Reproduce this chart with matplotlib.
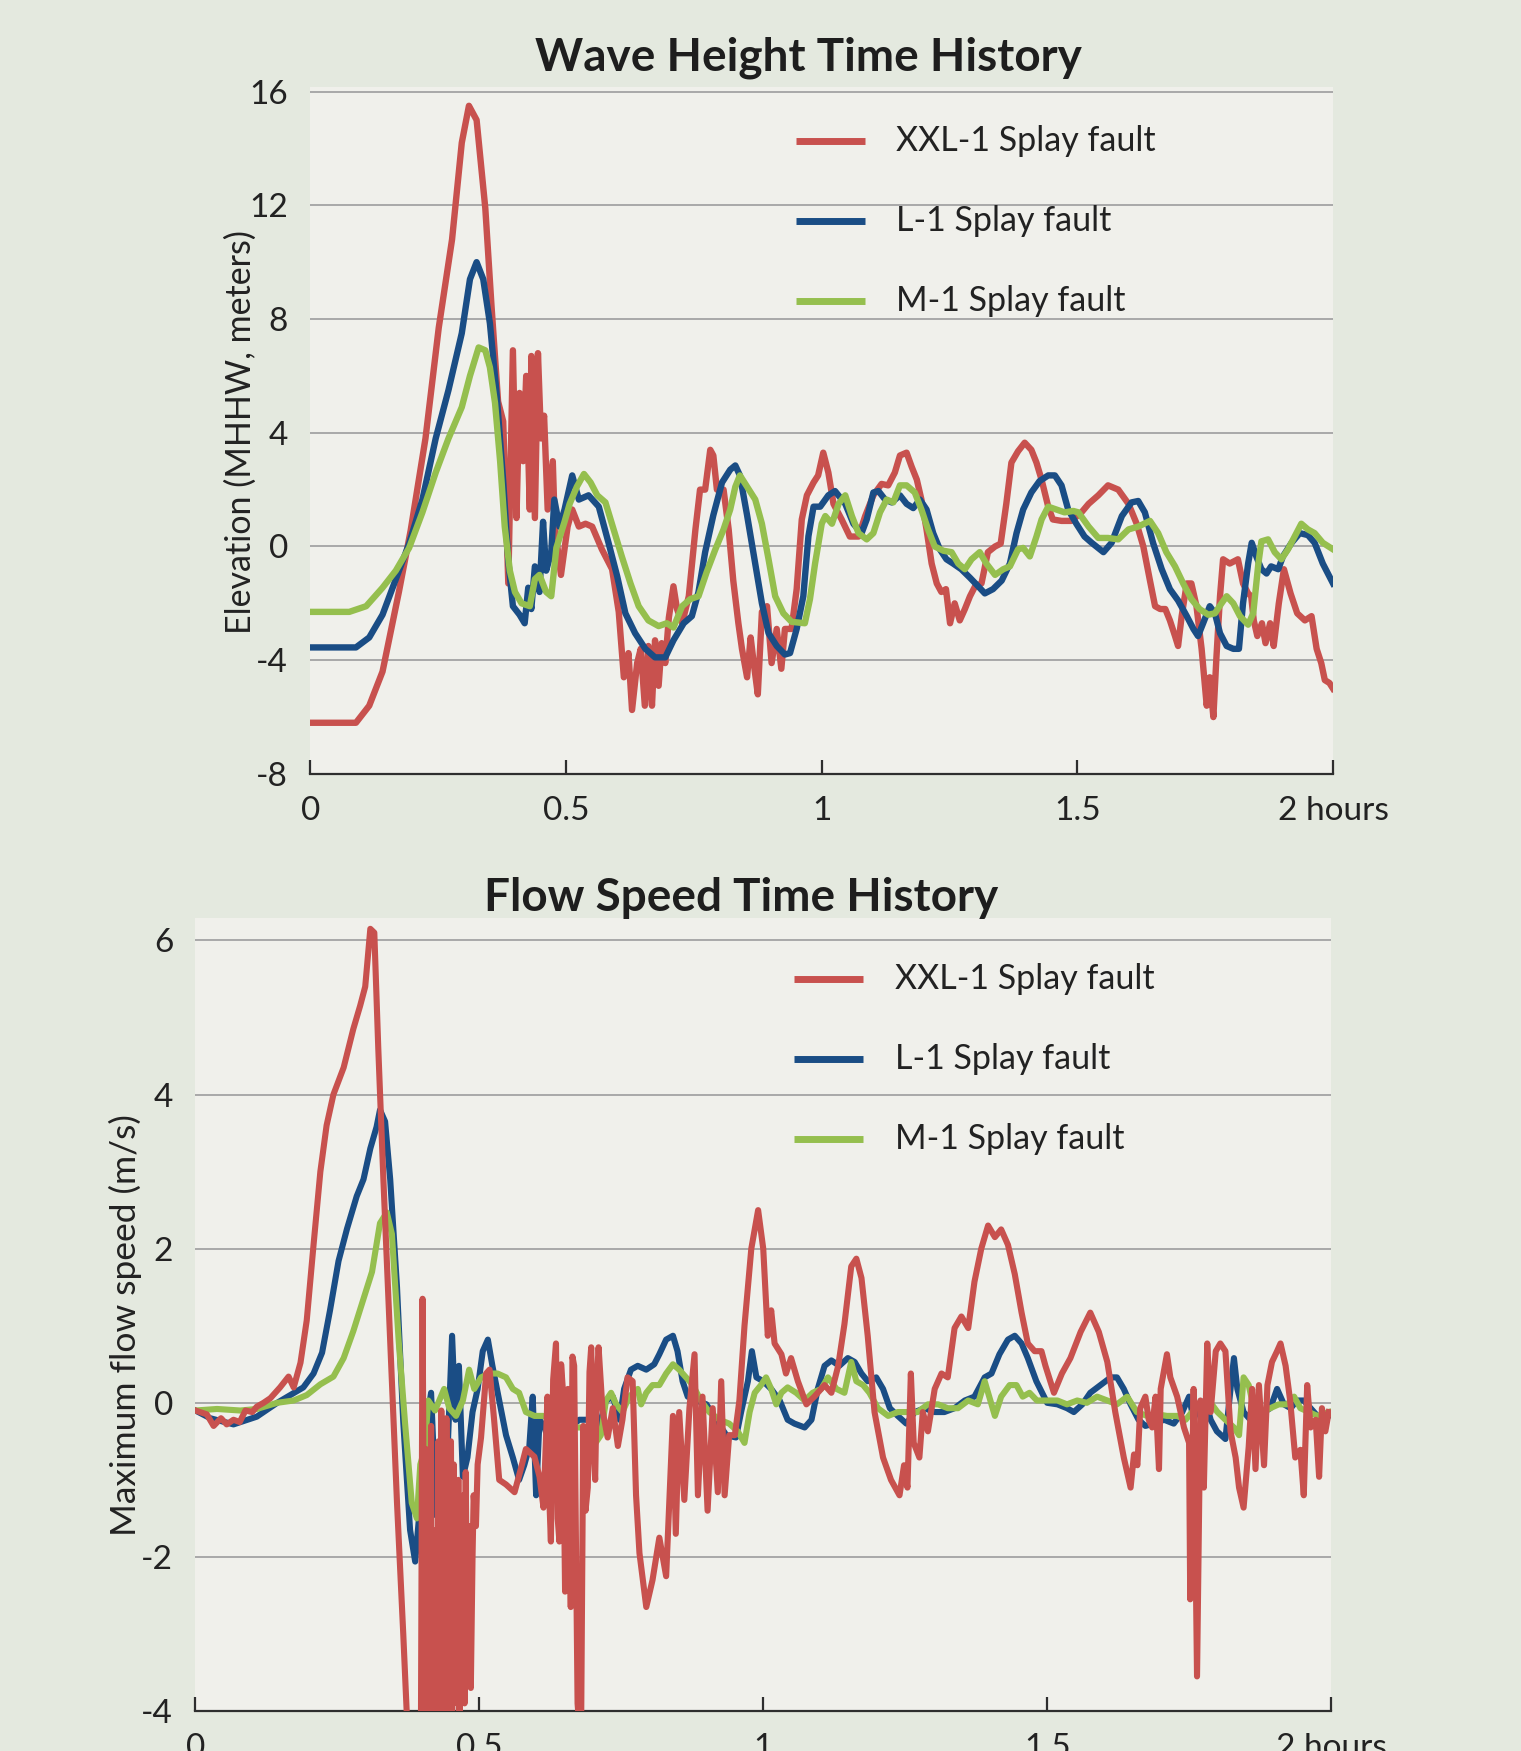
import matplotlib
matplotlib.use("Agg")
import matplotlib.pyplot as plt
from matplotlib.lines import Line2D

plt.rcParams['font.family'] = ['Lato', 'DejaVu Sans']
plt.rcParams['axes.unicode_minus'] = False

# ---- series names / colours
names = ["XXL-1 Splay fault", "L-1 Splay fault", "M-1 Splay fault"]
colors = ["#c8514e", "#1a4d85", "#95bf4e"]

x_ticks = [0, 0.5, 1, 1.5, 2]
x_labels = ["0", "0.5", "1", "1.5", "2 hours"]
wave_yticks = [16, 12, 8, 4, 0, -4, -8]
flow_yticks = [6, 4, 2, 0, -2, -4]

# ---- wave height (m), time in hours
wave_t_xxl = [0.0, 0.089, 0.115, 0.141, 0.173, 0.196, 0.225, 0.251, 0.277, 0.296, 0.31, 0.325, 0.342,
              0.354, 0.367, 0.377, 0.387, 0.396, 0.403, 0.409, 0.416, 0.422, 0.429, 0.432, 0.439, 0.445,
              0.451, 0.457, 0.464, 0.474, 0.478, 0.49, 0.503, 0.512, 0.525, 0.538, 0.551, 0.57, 0.59,
              0.603, 0.613, 0.622, 0.629, 0.639, 0.646, 0.654, 0.661, 0.668, 0.674, 0.681, 0.687, 0.694,
              0.701, 0.71, 0.717, 0.727, 0.74, 0.753, 0.762, 0.772, 0.782, 0.788, 0.795, 0.808, 0.818,
              0.827, 0.837, 0.844, 0.854, 0.861, 0.867, 0.875, 0.883, 0.893, 0.902, 0.912, 0.921, 0.928,
              0.941, 0.951, 0.961, 0.971, 0.984, 0.993, 1.003, 1.013, 1.023, 1.039, 1.055, 1.072, 1.085,
              1.101, 1.117, 1.13, 1.143, 1.153, 1.166, 1.176, 1.186, 1.195, 1.205, 1.215, 1.225, 1.234,
              1.243, 1.251, 1.26, 1.27, 1.28, 1.29, 1.3, 1.3125, 1.325, 1.339, 1.35, 1.361, 1.371, 1.384,
              1.397, 1.41, 1.42, 1.43, 1.443, 1.452, 1.469, 1.488, 1.508, 1.522, 1.541, 1.56, 1.58, 1.6,
              1.616, 1.629, 1.642, 1.652, 1.662, 1.672, 1.681, 1.691, 1.697, 1.704, 1.714, 1.723, 1.733,
              1.743, 1.753, 1.759, 1.766, 1.772, 1.779, 1.785, 1.798, 1.814, 1.824, 1.834, 1.84, 1.845,
              1.852, 1.861, 1.868, 1.877, 1.884, 1.894, 1.904, 1.917, 1.93, 1.945, 1.958, 1.968, 1.977,
              1.984, 1.993, 2.0]
wave_xxl = [-6.2, -6.2, -5.6, -4.4, -1.6, 0.56, 3.8, 7.7, 10.8, 14.2, 15.5, 15.0, 11.9,
            8.5, 5.1, 4.4, -1.3, 6.9, 1.0, 5.4, 3.0, 6.0, 1.3, 6.7, 1.0, 6.8,
            3.8, 4.6, 1.3, 3.0, 0.7, -1.0, 0.7, 1.3, 0.7, 0.8, 0.7, -0.1, -0.8,
            -2.3, -4.6, -3.75, -5.75, -4.1, -3.6, -5.6, -3.5, -5.6, -3.3, -4.9, -3.4, -4.1,
            -2.5, -1.4, -2.2, -2.7, -1.75, 0.6, 2.0, 2.0, 3.4, 3.2, 2.0, 2.0, 0.6,
            -1.2, -2.7, -3.6, -4.6, -3.2, -4.1, -5.2, -2.3, -2.1, -4.1, -2.9, -4.3, -2.9,
            -2.9, -1.5, 0.95, 1.8, 2.25, 2.5, 3.3, 2.6, 1.5, 0.95, 0.35, 0.35, 1.07,
            1.8, 2.2, 2.15, 2.6, 3.2, 3.3, 2.8, 2.35, 1.65, 0.6, -0.6, -1.3, -1.6,
            -1.5, -2.7, -2.0, -2.6, -2.2, -1.75, -1.4, -1.3, -0.2, 0.0, 0.1, 1.5, 2.95, 3.35,
            3.65, 3.4, 2.95, 2.35, 1.4, 0.95, 0.9, 0.9, 1.2, 1.5, 1.8, 2.15, 2.0, 1.5,
            0.8, 0.0, -1.2, -2.1, -2.2, -2.2, -2.6, -3.15, -3.5, -2.45, -1.3, -1.3, -2.1,
            -3.6, -5.6, -4.6, -6.0, -3.9, -1.75, -0.45, -0.6, -0.45, -1.3, -1.65, -1.75, -2.6,
            -3.15, -2.7, -3.4, -2.7, -3.5, -2.0, -0.8, -1.65, -2.35, -2.6, -2.45, -3.6, -4.1,
            -4.7, -4.8, -5.0]

wave_t_l = [0.0, 0.089, 0.115, 0.141, 0.167, 0.193, 0.219, 0.245, 0.27, 0.296, 0.312, 0.325, 0.338,
            0.351, 0.364, 0.377, 0.387, 0.396, 0.409, 0.419, 0.426, 0.432, 0.439, 0.448, 0.455, 0.461,
            0.471, 0.477, 0.487, 0.497, 0.512, 0.525, 0.544, 0.564, 0.583, 0.6, 0.616, 0.635, 0.655,
            0.674, 0.694, 0.71, 0.73, 0.746, 0.759, 0.772, 0.788, 0.805, 0.821, 0.831, 0.84, 0.854,
            0.87, 0.883, 0.896, 0.912, 0.928, 0.938, 0.951, 0.964, 0.974, 0.984, 0.997, 1.013, 1.026,
            1.046, 1.062, 1.078, 1.088, 1.101, 1.111, 1.124, 1.137, 1.153, 1.166, 1.179, 1.192, 1.205,
            1.218, 1.231, 1.244, 1.257, 1.273, 1.29, 1.306, 1.319, 1.335, 1.352, 1.368, 1.381, 1.394,
            1.41, 1.426, 1.443, 1.456, 1.469, 1.482, 1.498, 1.514, 1.528, 1.551, 1.567, 1.587, 1.606,
            1.619, 1.632, 1.648, 1.665, 1.681, 1.697, 1.714, 1.727, 1.736, 1.746, 1.759, 1.769, 1.779,
            1.792, 1.805, 1.816, 1.824, 1.834, 1.841, 1.85, 1.86, 1.87, 1.879, 1.893, 1.902, 1.919,
            1.935, 1.951, 1.964, 1.98, 2.0]
wave_l = [-3.55, -3.55, -3.2, -2.4, -1.15, 0.1, 1.65, 3.8, 5.5, 7.5, 9.4, 10.0, 9.4,
          7.85, 5.4, 2.3, -0.5, -2.1, -2.4, -2.7, -1.45, -2.2, -0.7, -1.6, 0.87, -0.85,
          -0.2, 1.65, 0.7, 1.3, 2.5, 1.65, 1.8, 1.4, 0.13, -1.05, -2.35, -3.05, -3.6,
          -3.9, -3.9, -3.3, -2.7, -2.45, -1.6, -0.2, 1.1, 2.25, 2.7, 2.85, 2.5, 1.1,
          -0.6, -2.0, -3.05, -3.5, -3.8, -3.75, -2.9, -1.75, 0.36, 1.4, 1.4, 1.8, 1.95,
          1.5, 0.8, 0.47, 0.95, 1.9, 1.95, 1.65, 1.55, 1.8, 1.5, 1.35, 1.65, 1.3,
          0.47, -0.1, -0.45, -0.6, -0.8, -1.1, -1.4, -1.65, -1.5, -1.2, -0.6, 0.47, 1.3,
          1.9, 2.3, 2.5, 2.5, 2.15, 1.3, 0.8, 0.35, 0.13, -0.2, 0.13, 1.07, 1.55,
          1.6, 1.2, 0.13, -0.8, -1.5, -1.9, -2.45, -2.9, -3.15, -2.7, -2.1, -2.35, -3.05,
          -3.5, -3.6, -3.6, -2.0, -0.6, 0.13, -0.35, -0.8, -0.95, -0.7, -0.8, -0.35, 0.13,
          0.47, 0.4, 0.13, -0.6, -1.3]

wave_t_m = [0.0, 0.076, 0.109, 0.141, 0.167, 0.193, 0.219, 0.245, 0.27, 0.296, 0.312, 0.329, 0.342,
            0.351, 0.361, 0.371, 0.38, 0.39, 0.4, 0.413, 0.429, 0.439, 0.448, 0.461, 0.471, 0.481,
            0.497, 0.507, 0.521, 0.535, 0.548, 0.561, 0.577, 0.593, 0.609, 0.626, 0.642, 0.661, 0.681,
            0.697, 0.71, 0.727, 0.743, 0.759, 0.775, 0.792, 0.808, 0.821, 0.831, 0.84, 0.854, 0.87,
            0.883, 0.896, 0.909, 0.925, 0.941, 0.967, 0.977, 0.987, 1.0, 1.007, 1.02, 1.033, 1.046,
            1.059, 1.072, 1.088, 1.101, 1.114, 1.127, 1.14, 1.153, 1.166, 1.182, 1.195, 1.208, 1.221,
            1.238, 1.254, 1.267, 1.28, 1.293, 1.309, 1.322, 1.339, 1.355, 1.368, 1.384, 1.394, 1.407,
            1.42, 1.43, 1.443, 1.459, 1.475, 1.492, 1.502, 1.522, 1.541, 1.56, 1.58, 1.6, 1.619,
            1.642, 1.658, 1.674, 1.691, 1.707, 1.723, 1.739, 1.756, 1.769, 1.782, 1.792, 1.805, 1.818,
            1.834, 1.844, 1.854, 1.86, 1.873, 1.886, 1.899, 1.912, 1.925, 1.938, 1.951, 1.964, 1.98,
            2.0]
wave_m = [-2.3, -2.3, -2.1, -1.45, -0.85, -0.05, 1.2, 2.6, 3.8, 4.9, 6.0, 7.0, 6.9,
          6.3, 5.05, 3.0, 0.7, -0.85, -1.6, -2.0, -2.1, -1.15, -1.0, -1.6, -1.75, -0.05,
          0.87, 1.5, 2.1, 2.55, 2.25, 1.8, 1.55, 0.6, -0.35, -1.3, -2.1, -2.6, -2.8,
          -2.7, -2.85, -2.1, -1.85, -1.75, -0.9, -0.1, 0.6, 1.3, 2.1, 2.5, 2.1, 1.65,
          0.8, -0.45, -1.75, -2.35, -2.65, -2.7, -1.85, -0.6, 0.8, 1.07, 0.8, 1.5, 1.8,
          1.07, 0.47, 0.25, 0.47, 1.2, 1.65, 1.55, 2.15, 2.15, 1.9, 1.3, 0.6, 0.0,
          -0.15, -0.2, -0.6, -0.8, -0.45, -0.2, -0.6, -1.0, -0.8, -0.7, -0.1, -0.05, -0.35,
          0.35, 0.95, 1.4, 1.3, 1.2, 1.25, 1.2, 0.7, 0.3, 0.3, 0.25, 0.6, 0.7,
          0.9, 0.47, -0.2, -0.7, -1.3, -1.85, -2.2, -2.4, -2.35, -2.0, -1.75, -2.0, -2.45,
          -2.75, -2.35, -0.6, 0.18, 0.25, -0.2, -0.45, -0.1, 0.35, 0.8, 0.6, 0.47, 0.13,
          -0.1]

# ---- maximum flow speed (m/s), time in hours
flow_t_xxl = [0.0, 0.02, 0.032, 0.045, 0.055, 0.067, 0.078, 0.088, 0.1, 0.108, 0.12, 0.132, 0.149,
              0.164, 0.173, 0.185, 0.196, 0.208, 0.22, 0.231, 0.243, 0.261, 0.278, 0.29, 0.299, 0.308,
              0.315, 0.322, 0.331, 0.343, 0.355, 0.366, 0.375, 0.39, 0.397, 0.4, 0.404, 0.406, 0.408,
              0.41, 0.412, 0.415, 0.417, 0.419, 0.421, 0.424, 0.426, 0.428, 0.43, 0.433, 0.436, 0.438,
              0.44, 0.442, 0.444, 0.446, 0.448, 0.45, 0.452, 0.455, 0.457, 0.459, 0.461, 0.463, 0.465,
              0.467, 0.469, 0.472, 0.474, 0.476, 0.478, 0.481, 0.483, 0.485, 0.488, 0.49, 0.494, 0.497,
              0.503, 0.512, 0.518, 0.526, 0.535, 0.547, 0.562, 0.573, 0.582, 0.597, 0.606, 0.613, 0.62,
              0.623, 0.626, 0.63, 0.635, 0.638, 0.641, 0.644, 0.647, 0.651, 0.656, 0.661, 0.664, 0.667,
              0.673, 0.679, 0.683, 0.687, 0.691, 0.694, 0.697, 0.701, 0.704, 0.707, 0.71, 0.717, 0.726,
              0.735, 0.744, 0.752, 0.761, 0.77, 0.776, 0.782, 0.794, 0.805, 0.817, 0.829, 0.841, 0.846,
              0.852, 0.861, 0.87, 0.879, 0.885, 0.893, 0.902, 0.911, 0.92, 0.926, 0.932, 0.94, 0.95,
              0.958, 0.967, 0.979, 0.991, 1.0, 1.008, 1.014, 1.02, 1.032, 1.04, 1.049, 1.061, 1.076,
              1.09, 1.108, 1.12, 1.132, 1.143, 1.155, 1.164, 1.173, 1.184, 1.196, 1.211, 1.225, 1.24,
              1.248, 1.254, 1.26, 1.265, 1.275, 1.281, 1.29, 1.302, 1.314, 1.325, 1.337, 1.349, 1.361,
              1.372, 1.384, 1.396, 1.408, 1.419, 1.431, 1.443, 1.455, 1.466, 1.478, 1.49, 1.497, 1.512,
              1.526, 1.541, 1.559, 1.576, 1.591, 1.606, 1.62, 1.635, 1.647, 1.653, 1.659, 1.664, 1.673,
              1.679, 1.685, 1.691, 1.697, 1.7, 1.711, 1.717, 1.729, 1.741, 1.75, 1.752, 1.758, 1.764,
              1.77, 1.776, 1.782, 1.788, 1.797, 1.805, 1.814, 1.823, 1.832, 1.838, 1.846, 1.855, 1.861,
              1.867, 1.873, 1.882, 1.888, 1.896, 1.905, 1.911, 1.92, 1.928, 1.937, 1.946, 1.952, 1.958,
              1.964, 1.973, 1.979, 1.984, 1.99, 1.996]
flow_xxl = [-0.1, -0.15, -0.3, -0.2, -0.28, -0.22, -0.25, -0.1, -0.12, -0.05, 0.0, 0.06, 0.2,
            0.34, 0.2, 0.52, 1.07, 2.05, 3.0, 3.6, 4.0, 4.35, 4.85, 5.15, 5.4, 6.15,
            6.1, 4.6, 2.9, 0.8, -1.3, -3.0, -4.5, -4.6, -4.5, 1.35, -4.5, -0.6, -4.5,
            -1.2, -4.5, -0.3, -4.5, -2.0, -4.5, -1.65, -4.5, -0.5, -4.5, -0.1, -4.5, -1.2,
            -4.5, -0.2, -3.0, -1.0, -4.5, -0.5, -4.5, -0.8, -3.4, -1.4, -3.9, -1.0, -4.3,
            -2.6, -3.6, -1.2, -3.9, -0.9, -2.7, -3.5, -1.6, -3.7, -2.0, -1.2, -1.6, -0.8,
            -0.45, 0.38, 0.43, -0.22, -1.0, -1.06, -1.16, -0.86, -0.6, -0.7, -0.96, -1.36, 0.08,
            -1.2, -1.8, 0.3, 0.77, -1.5, -1.8, 0.5, 0.18, -2.45, 0.18, -2.65, 0.6, 0.48,
            -3.9, -4.5, -0.3, -1.4, -1.1, 0.4, 0.72, -0.6, -1.0, 0.3, 0.72, -0.1, -0.45,
            -0.07, -0.56, -0.22, 0.33, 0.28, -1.2, -1.95, -2.65, -2.3, -1.75, -2.25, -0.17, -1.7,
            -0.12, -1.26, -0.07, 0.63, -1.2, 0.08, -1.4, -0.07, -1.16, 0.28, -1.2, -0.42, -0.42,
            0.03, 1.0, 2.0, 2.5, 2.0, 0.87, 1.2, 0.77, 0.63, 0.38, 0.58, 0.28, -0.02,
            0.08, 0.23, 0.13, 0.48, 1.02, 1.77, 1.87, 1.62, 0.87, -0.12, -0.71, -1.0, -1.2,
            -0.81, -1.1, 0.38, -0.52, -0.71, -0.12, -0.37, 0.18, 0.38, 0.33, 0.97, 1.12, 0.97,
            1.57, 2.0, 2.3, 2.15, 2.25, 2.05, 1.67, 1.17, 0.77, 0.67, 0.67, 0.48, 0.13,
            0.38, 0.58, 0.92, 1.17, 0.92, 0.53, -0.12, -0.71, -1.1, -0.67, -0.81, -0.07, 0.08,
            -0.22, -0.32, 0.08, -0.86, 0.18, 0.63, 0.33, 0.08, -0.32, -0.52, -2.55, 0.18, -3.55,
            0.03, -1.1, 0.77, -0.12, 0.67, 0.77, 0.67, -0.37, -0.71, -1.1, -1.36, -0.57, 0.18,
            -0.86, 0.23, -0.81, 0.23, 0.53, 0.67, 0.77, 0.48, 0.03, -0.71, -0.61, -1.2, 0.23,
            -0.32, -0.22, -0.96, -0.07, -0.37, -0.12]

flow_t_l = [0.0, 0.026, 0.067, 0.108, 0.144, 0.167, 0.19, 0.208, 0.223, 0.237, 0.252, 0.267, 0.284,
            0.296, 0.308, 0.319, 0.325, 0.334, 0.343, 0.355, 0.366, 0.378, 0.387, 0.396, 0.406, 0.415,
            0.424, 0.432, 0.441, 0.452, 0.458, 0.464, 0.471, 0.479, 0.488, 0.497, 0.506, 0.515, 0.523,
            0.535, 0.547, 0.559, 0.57, 0.579, 0.588, 0.594, 0.6, 0.606, 0.615, 0.626, 0.641, 0.659,
            0.676, 0.694, 0.711, 0.723, 0.735, 0.747, 0.755, 0.767, 0.779, 0.794, 0.808, 0.817, 0.829,
            0.841, 0.849, 0.858, 0.867, 0.882, 0.9, 0.917, 0.935, 0.952, 0.961, 0.973, 0.98, 0.988,
            1.0, 1.014, 1.029, 1.043, 1.055, 1.073, 1.085, 1.096, 1.108, 1.12, 1.134, 1.149, 1.161,
            1.173, 1.184, 1.199, 1.211, 1.223, 1.237, 1.252, 1.267, 1.284, 1.302, 1.319, 1.337, 1.355,
            1.372, 1.39, 1.402, 1.416, 1.431, 1.443, 1.455, 1.466, 1.481, 1.5, 1.518, 1.535, 1.547,
            1.562, 1.576, 1.594, 1.612, 1.623, 1.635, 1.647, 1.661, 1.673, 1.688, 1.706, 1.723, 1.738,
            1.75, 1.758, 1.767, 1.779, 1.788, 1.799, 1.814, 1.823, 1.829, 1.835, 1.846, 1.858, 1.87,
            1.882, 1.893, 1.905, 1.917, 1.929, 1.94, 1.952, 1.964, 1.976, 1.987, 1.996]
flow_l = [-0.1, -0.2, -0.28, -0.18, 0.0, 0.1, 0.2, 0.38, 0.65, 1.2, 1.84, 2.26, 2.68,
          2.9, 3.3, 3.58, 3.8, 3.65, 2.9, 1.5, -0.25, -1.65, -2.06, -1.3, -0.32, 0.13,
          -1.46, -0.71, -1.2, 0.87, -0.22, 0.48, -0.96, -0.71, -0.12, 0.18, 0.67, 0.82, 0.48,
          0.03, -0.42, -0.71, -1.0, -0.81, -0.57, 0.08, -1.2, -0.22, -0.32, -0.61, -0.52, -0.32,
          -0.22, -0.22, -0.32, 0.03, 0.08, -0.22, 0.18, 0.43, 0.48, 0.43, 0.5, 0.63, 0.82,
          0.87, 0.67, 0.28, 0.08, 0.03, -0.02, -0.22, -0.42, -0.45, -0.12, 0.28, 0.67, 0.33,
          0.28, 0.18, 0.03, -0.22, -0.27, -0.32, -0.22, 0.18, 0.48, 0.55, 0.48, 0.58, 0.53,
          0.38, 0.28, 0.33, 0.18, -0.07, -0.17, -0.27, -0.12, -0.07, -0.12, -0.12, -0.07, 0.03,
          0.08, 0.33, 0.38, 0.63, 0.82, 0.87, 0.77, 0.58, 0.28, 0.0, -0.02, -0.07, -0.12,
          -0.02, 0.13, 0.23, 0.33, 0.33, 0.18, -0.02, -0.22, -0.3, -0.27, -0.22, -0.27, -0.12,
          0.08, -0.22, -0.02, 0.03, -0.22, -0.37, -0.47, 0.18, 0.58, 0.18, -0.12, -0.22, -0.17,
          -0.12, -0.07, 0.18, -0.02, -0.07, 0.03, 0.03, -0.07, -0.17, -0.22, -0.17]

flow_t_m = [0.0, 0.038, 0.079, 0.108, 0.144, 0.173, 0.196, 0.22, 0.243, 0.261, 0.278, 0.296, 0.311,
            0.325, 0.337, 0.346, 0.358, 0.369, 0.381, 0.39, 0.396, 0.404, 0.41, 0.422, 0.438, 0.447,
            0.459, 0.471, 0.482, 0.491, 0.503, 0.518, 0.532, 0.547, 0.559, 0.57, 0.582, 0.597, 0.612,
            0.629, 0.647, 0.664, 0.682, 0.7, 0.714, 0.723, 0.732, 0.741, 0.752, 0.764, 0.779, 0.785,
            0.794, 0.805, 0.817, 0.829, 0.841, 0.852, 0.864, 0.876, 0.89, 0.905, 0.923, 0.94, 0.955,
            0.967, 0.976, 0.985, 0.996, 1.005, 1.014, 1.023, 1.032, 1.043, 1.058, 1.073, 1.087, 1.102,
            1.114, 1.129, 1.143, 1.155, 1.164, 1.176, 1.187, 1.202, 1.22, 1.237, 1.255, 1.272, 1.29,
            1.308, 1.325, 1.343, 1.361, 1.378, 1.39, 1.402, 1.408, 1.419, 1.434, 1.446, 1.457, 1.469,
            1.482, 1.5, 1.518, 1.535, 1.553, 1.57, 1.588, 1.606, 1.623, 1.641, 1.658, 1.676, 1.694,
            1.711, 1.729, 1.744, 1.755, 1.77, 1.785, 1.8, 1.814, 1.829, 1.838, 1.846, 1.855, 1.867,
            1.879, 1.893, 1.908, 1.923, 1.935, 1.946, 1.961, 1.976, 1.996]
flow_m = [-0.1, -0.08, -0.1, -0.08, 0.0, 0.03, 0.1, 0.24, 0.34, 0.58, 0.93, 1.35, 1.7,
          2.33, 2.47, 2.19, 0.8, -0.25, -1.3, -1.5, -0.8, -0.6, 0.03, -0.1, 0.18, -0.07,
          -0.17, 0.03, 0.43, 0.18, 0.33, 0.38, 0.38, 0.33, 0.18, 0.13, -0.12, -0.17, -0.17,
          -0.22, -0.17, -0.32, -0.32, -0.57, -0.42, 0.03, 0.13, -0.02, -0.12, 0.08, 0.18, -0.02,
          0.13, 0.23, 0.23, 0.38, 0.5, 0.43, 0.33, 0.23, 0.03, -0.12, -0.22, -0.27, -0.37,
          -0.52, -0.12, 0.13, 0.23, 0.33, 0.18, -0.02, 0.13, 0.2, 0.13, 0.03, 0.13, 0.18,
          0.33, 0.18, 0.13, 0.53, 0.28, 0.23, 0.13, -0.07, -0.17, -0.12, -0.12, -0.12, -0.02,
          -0.02, -0.07, -0.07, 0.03, -0.02, 0.28, -0.02, -0.17, 0.08, 0.23, 0.23, 0.08, 0.13,
          0.03, 0.03, 0.03, -0.02, 0.03, 0.0, 0.08, 0.03, -0.02, 0.08, -0.12, -0.17, -0.15,
          -0.17, -0.17, -0.22, -0.12, -0.02, 0.03, -0.12, -0.22, -0.32, -0.42, 0.33, 0.23, -0.17,
          -0.12, -0.07, -0.02, -0.02, 0.08, -0.07, -0.12, -0.17, -0.12]

wave_series = [(wave_t_xxl, wave_xxl), (wave_t_l, wave_l), (wave_t_m, wave_m)]
flow_series = [(flow_t_xxl, flow_xxl), (flow_t_l, flow_l), (flow_t_m, flow_m)]

fig = plt.figure(figsize=(15.21, 17.51), dpi=100)
fig.patch.set_facecolor("#e4e9df")

ax1 = fig.add_axes([0.2041, 0.558, 0.6723, 0.3923])
ax2 = fig.add_axes([0.1285, 0.0228, 0.7466, 0.4529])


def style_axes(ax, yticks, ylim):
    ax.set_facecolor("#f0f0eb")
    ax.set_xlim(0, 2)
    ax.set_ylim(*ylim)
    for s in ["top", "right", "left"]:
        ax.spines[s].set_visible(False)
    ax.spines["bottom"].set_color("#2e2e2e")
    ax.spines["bottom"].set_linewidth(1.6)
    for y in yticks[:-1]:
        ax.axhline(y, color="#a9a9a9", lw=1.4, zorder=1)
    ax.set_yticks(yticks)
    ax.set_yticklabels([str(v) for v in yticks])
    ax.set_xticks(x_ticks)
    ax.set_xticklabels(x_labels)
    ax.tick_params(axis="y", length=0, pad=16, labelsize=24, labelcolor="#222222")
    ax.tick_params(axis="x", direction="in", length=10, width=1.6, color="#2e2e2e",
                   pad=16, labelsize=24, labelcolor="#222222")


def legend(ax, x0, x1, xt, ys):
    for c, n, y in zip(colors, names, ys):
        ax.add_line(Line2D([x0, x1], [y, y], color=c, lw=5, transform=ax.transAxes,
                           solid_capstyle="butt", zorder=5))
        ax.text(xt, y, n, transform=ax.transAxes, fontsize=24.5, va="center", ha="left",
                color="#222222")


style_axes(ax1, wave_yticks, (-8, 16.16))
for (t, v), c, z in zip(wave_series, colors, [2, 3, 4]):
    ax1.plot(t, v, color=c, lw=4.6, zorder=z, solid_joinstyle="round")
legend(ax1, 0.475, 0.542, 0.573, [0.922, 0.805, 0.688])

style_axes(ax2, flow_yticks, (-4, 6.29))
for (t, v), c, z in zip(flow_series, colors, [4, 2, 3]):
    ax2.plot(t, v, color=c, lw=4.4, zorder=z, solid_joinstyle="round")
legend(ax2, 0.527, 0.588, 0.6156, [0.923, 0.822, 0.721])

fig.text(0.5316, 0.967, "Wave Height Time History", fontsize=33, fontweight="bold",
         ha="center", va="center", color="#1e1e1e")
fig.text(0.4875, 0.4872, "Flow Speed Time History", fontsize=33, fontweight="bold",
         ha="center", va="center", color="#1e1e1e")
fig.text(0.1585, 0.753, "Elevation (MHHW, meters)", fontsize=24.5, rotation=90,
         ha="center", va="center", color="#222222")
fig.text(0.0822, 0.2433, "Maximum flow speed (m/s)", fontsize=25.5, rotation=90,
         ha="center", va="center", color="#222222")

fig.savefig("out.png", dpi=100, facecolor=fig.get_facecolor())
